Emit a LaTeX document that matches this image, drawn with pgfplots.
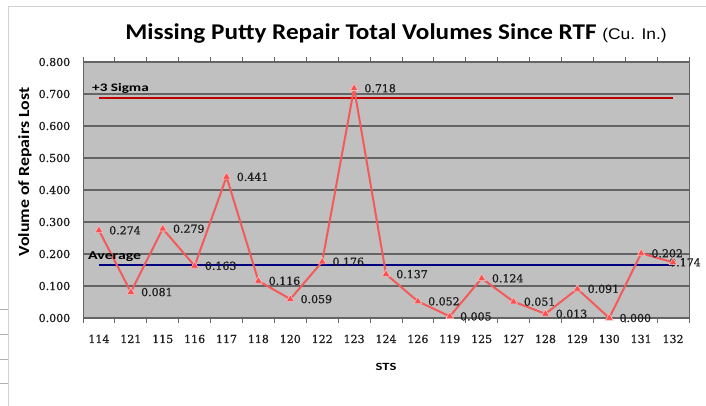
\documentclass[border=0pt]{standalone}
\usepackage{fontspec}
\setmainfont{DejaVu Serif}
\newfontfamily\numfont[FakeBold=0.9]{DejaVu Serif}
\newfontfamily\calfont{Carlito}
\newfontfamily\calwide[FakeStretch=1.12]{Carlito}
\newfontfamily\calwider[FakeStretch=1.15]{Carlito}
\newfontfamily\calwidest[FakeStretch=1.32]{Carlito}
\newfontfamily\arialwide[FakeStretch=1.12]{Liberation Sans}
\usepackage{pgfplots}
\usepackage{pgfplotstable}
\pgfplotsset{compat=1.18}
\definecolor{plotbg}{RGB}{192,192,192}
\definecolor{gridc}{RGB}{100,100,100}
\definecolor{linec}{RGB}{245,90,90}
\definecolor{markc}{RGB}{250,80,80}
\definecolor{sigmac}{RGB}{192,0,0}
\definecolor{avgc}{RGB}{0,0,128}
\definecolor{txtc}{RGB}{30,30,30}

\pgfplotstableread{
x y lab
0 0.274 0.274
1 0.081 0.081
2 0.279 0.279
3 0.163 0.163
4 0.441 0.441
5 0.116 0.116
6 0.059 0.059
7 0.176 0.176
8 0.718 0.718
9 0.137 0.137
10 0.052 0.052
11 0.005 0.005
12 0.124 0.124
13 0.051 0.051
14 0.013 0.013
15 0.091 0.091
16 0.000 0.000
17 0.202 0.202
18 0.174 {}
}\datatable

\begin{document}
\begin{tikzpicture}
\path[use as bounding box] (0pt,0pt) rectangle (706pt,406pt);
\draw[gray!35, line width=1pt] (8pt,0pt) -- (8pt,399pt) -- (706pt,399pt);
\foreach \yy in {97,72,47,23} \draw[gray!60, line width=0.8pt] (0pt,\yy pt) -- (8pt,\yy pt);
\node[anchor=base, inner sep=0pt] at (396pt,366pt) {\calwide\bfseries\fontsize{22.5}{26}\selectfont Missing Putty Repair Total Volumes Since RTF \arialwide\mdseries\fontsize{15.5}{18}\selectfont(Cu. In.)};
\node[rotate=90, inner sep=0pt] at (25pt,234pt) {\calwider\bfseries\fontsize{15.5}{18}\selectfont Volume of Repairs Lost};
\begin{axis}[
  at={(83pt,88pt)}, anchor=south west,
  scale only axis, width=606pt, height=256pt,
  xmin=-0.5, xmax=18.5, ymin=0, ymax=0.8,
  axis background/.style={fill=plotbg},
  axis line style={gridc, line width=1pt},
  ytick={0,0.1,0.2,0.3,0.4,0.5,0.6,0.7,0.8},
  ymajorgrids, major grid style={gridc, line width=1.5pt},
  ytick style={draw=none},
  /pgf/number format/assume math mode=true,
  yticklabel={\pgfmathprintnumber[fixed,fixed zerofill,precision=3]{\tick}},
  yticklabel style={font=\numfont\fontsize{11}{13}\selectfont, text=txtc, xshift=-5pt},
  xtick={0,...,18},
  xticklabels={114,121,115,116,117,118,120,122,123,124,126,119,125,127,128,129,130,131,132},
  major x tick style={draw=none},
  minor xtick={-0.5,0.5,...,18.5},
  minor x tick style={gridc, line width=0.8pt},
  minor tick length=5pt, tick align=outside,
  xticklabel style={font=\numfont\fontsize{11}{13}\selectfont, text=txtc, yshift=-9pt},
  xlabel={\calwidest\bfseries\fontsize{11}{13}\selectfont STS},
  xlabel style={yshift=-13pt},
  clip=false,
]
\addplot[sigmac, line width=2.2pt] coordinates {(0,0.688) (18,0.688)};
\addplot[avgc, line width=2pt] coordinates {(0,0.166) (18,0.166)};
\addplot[linec, line width=2pt, mark=triangle*, mark size=4.5pt,
  mark options={fill=markc, draw=red!25!white, line width=0.6pt},
  point meta=explicit symbolic,
  nodes near coords,
  every node near coord/.append style={anchor=west, xshift=9pt, yshift=0pt, font=\numfont\fontsize{11}{13}\selectfont, text=txtc, inner sep=1pt}]
  table[x=x, y=y, meta=lab] {\datatable};
\node[anchor=west, inner sep=0pt, xshift=-4pt, font=\numfont\fontsize{11}{13}\selectfont, text=txtc] at (axis cs:18,0.174) {0.174};
\end{axis}
\node[anchor=base west, inner sep=0pt] at (92pt,314pt) {\calwidest\bfseries\fontsize{11.5}{13}\selectfont +3 Sigma};
\node[anchor=base west, inner sep=0pt] at (88pt,146pt) {\calwidest\bfseries\fontsize{12}{14}\selectfont Average};
\end{tikzpicture}
\end{document}
